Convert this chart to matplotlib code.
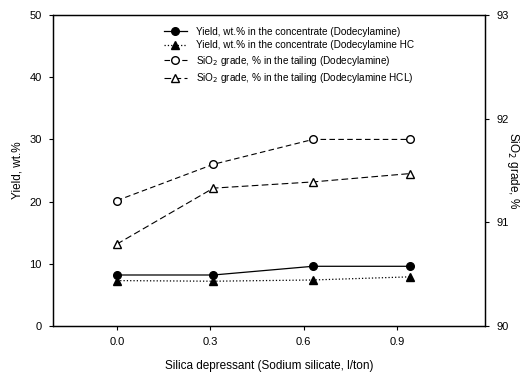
import matplotlib
matplotlib.use("Agg")
import matplotlib.pyplot as plt

# silica depressant dosage (l/ton)
dose = [0.0, 0.31, 0.63, 0.94]

# yield, wt.% in the concentrate (left axis)
yield_dda = [8.2, 8.2, 9.6, 9.6]
yield_hcl = [7.3, 7.2, 7.4, 7.9]

# SiO2 grade, % in the tailing (right axis)
grade_dda = [91.21, 91.56, 91.80, 91.80]
grade_hcl = [90.79, 91.33, 91.39, 91.47]

xticks = [0.0, 0.3, 0.6, 0.9]

plt.rcParams.update({
    "font.family": ["Liberation Sans", "DejaVu Sans"],
    "font.size": 8,
    "axes.linewidth": 0.9,
})

fig = plt.figure(figsize=(5.2, 3.76), dpi=100)
ax = fig.add_axes([0.102, 0.133, 0.831, 0.827])
ax2 = ax.twinx()

l1, = ax.plot(dose, yield_dda, color="k", lw=0.9, ls="-", marker="o", ms=5.5,
              label="Yield, wt.% in the concentrate (Dodecylamine)")
l2, = ax.plot(dose, yield_hcl, color="k", lw=0.9, ls=":", marker="^", ms=5.5,
              label="Yield, wt.% in the concentrate (Dodecylamine HC")
l3, = ax2.plot(dose, grade_dda, color="k", lw=0.8, ls=(0, (5, 3)), marker="o", ms=5.5,
               mfc="white", label="SiO$_2$ grade, % in the tailing (Dodecylamine)")
l4, = ax2.plot(dose, grade_hcl, color="k", lw=0.8, ls=(0, (6, 3)), marker="^", ms=5.5,
               mfc="white", label="SiO$_2$ grade, % in the tailing (Dodecylamine HCL)")

ax.set_xlim(-0.205, 1.183)
ax.set_ylim(0, 50)
ax2.set_ylim(90, 93)
ax.set_xticks(xticks)
ax.set_xticklabels([f"{v:.1f}" for v in xticks])
ax.set_yticks([0, 10, 20, 30, 40, 50])
ax2.set_yticks([90, 91, 92, 93])

ax.tick_params(direction="out", length=3, width=0.8, pad=5)
ax2.tick_params(direction="out", length=3, width=0.8, pad=5)

ax.set_xlabel("Silica depressant (Sodium silicate, l/ton)", fontsize=8.5, labelpad=9)
ax.set_ylabel("Yield, wt.%", fontsize=8.5, labelpad=4)
ax2.set_ylabel("SiO$_2$ grade, %", fontsize=8.5, rotation=270, labelpad=9)

ax.legend(handles=[l1, l2, l3, l4], loc="upper left", bbox_to_anchor=(0.24, 0.985),
          frameon=False, fontsize=7.2, handlelength=2.3, handletextpad=0.9,
          labelspacing=0.35, borderaxespad=0.3)

fig.savefig("out.png", dpi=100)
